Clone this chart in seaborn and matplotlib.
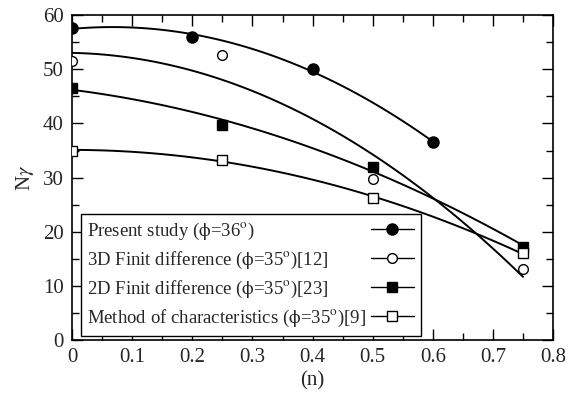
import numpy as np
import pandas as pd
import seaborn as sns
import matplotlib
matplotlib.use("Agg")
import matplotlib.pyplot as plt
from matplotlib.lines import Line2D
from matplotlib.ticker import MultipleLocator, FuncFormatter

# Data
present_x = [0.0, 0.2, 0.4, 0.6]
present_y = [57.6, 56.0, 50.0, 36.5]
fd3_x = [0.0, 0.25, 0.5, 0.75]
fd3_y = [51.5, 52.6, 29.7, 13.2]
fd2_x = [0.0, 0.25, 0.5, 0.75]
fd2_y = [46.5, 39.8, 32.0, 17.2]
moc_x = [0.0, 0.25, 0.5, 0.75]
moc_y = [35.0, 33.3, 26.2, 16.0]

labels = [
    r"Present study ($\mathrm{\phi}$=36$^{\mathrm{o}}$)",
    r"3D Finit difference ($\mathrm{\phi}$=35$^{\mathrm{o}}$)[12]",
    r"2D Finit difference ($\mathrm{\phi}$=35$^{\mathrm{o}}$)[23]",
    r"Method of characteristics ($\mathrm{\phi}$=35$^{\mathrm{o}}$)[9]",
]

sns.set_style("ticks")
plt.rcParams["font.family"] = ["Liberation Serif", "DejaVu Serif"]
plt.rcParams["mathtext.fontset"] = "stix"

fig = plt.figure(figsize=(5.78, 3.96), dpi=100)
ax = fig.add_axes([0.1246, 0.141, 0.8324, 0.821])

series = [
    (present_x, present_y, "o", "black", 8),
    (fd3_x, fd3_y, "o", "white", 7),
    (fd2_x, fd2_y, "s", "black", 7),
    (moc_x, moc_y, "s", "white", 6.5),
]

handles = []
for (xs, ys, mk, fc, ms), lab in zip(series, labels):
    df = pd.DataFrame({"n": xs, "N": ys})
    sns.regplot(data=df, x="n", y="N", order=2, ci=None, scatter=False,
                truncate=True, ax=ax, line_kws=dict(color="black", lw=1.4))
    ax.plot(xs, ys, linestyle="none", marker=mk, markersize=ms,
            markerfacecolor=fc, markeredgecolor="black", markeredgewidth=1.0,
            zorder=5)
    handles.append(Line2D([], [], color="black", lw=1.0, marker=mk,
                          markersize=ms, markerfacecolor=fc,
                          markeredgecolor="black", markeredgewidth=1.0))

ax.set_xlim(0, 0.8)
ax.set_ylim(0, 60)
ax.xaxis.set_major_locator(MultipleLocator(0.1))
ax.xaxis.set_minor_locator(MultipleLocator(0.05))
ax.yaxis.set_major_locator(MultipleLocator(10))
ax.yaxis.set_minor_locator(MultipleLocator(5))
ax.xaxis.set_major_formatter(FuncFormatter(lambda v, p: f"{round(v, 2):g}"))
ax.tick_params(which="both", direction="in", top=True, right=True,
               labelsize=15, width=1.0, color="black")
ax.tick_params(which="major", length=8, pad=6)
ax.tick_params(which="minor", length=5)
for s in ax.spines.values():
    s.set_visible(True)
    s.set_linewidth(1.2)
    s.set_color("black")

ax.set_xlabel("(n)", fontsize=15, labelpad=3)
ax.set_ylabel(r"N$\gamma$", fontsize=15, labelpad=5)

leg = ax.legend(handles, labels, loc="lower left", bbox_to_anchor=(0.018, 0.014),
                markerfirst=False, fontsize=13.5, frameon=True, fancybox=False,
                edgecolor="black", framealpha=1, handlelength=2.3,
                labelspacing=0.42, borderpad=0.35, handletextpad=0.25,
                borderaxespad=0)
leg.get_frame().set_linewidth(1.0)

# left-align label texts while keeping handles on the right
fig.canvas.draw()
renderer = fig.canvas.get_renderer()
widths = [t.get_window_extent(renderer).width for t in leg.get_texts()]
maxw = max(widths)
rows = leg._legend_handle_box.get_children()[0].get_children()
for row, w in zip(rows, widths):
    row.sep = row.sep + (maxw - w) * 72.0 / fig.dpi

fig.savefig("out.png", dpi=100)
